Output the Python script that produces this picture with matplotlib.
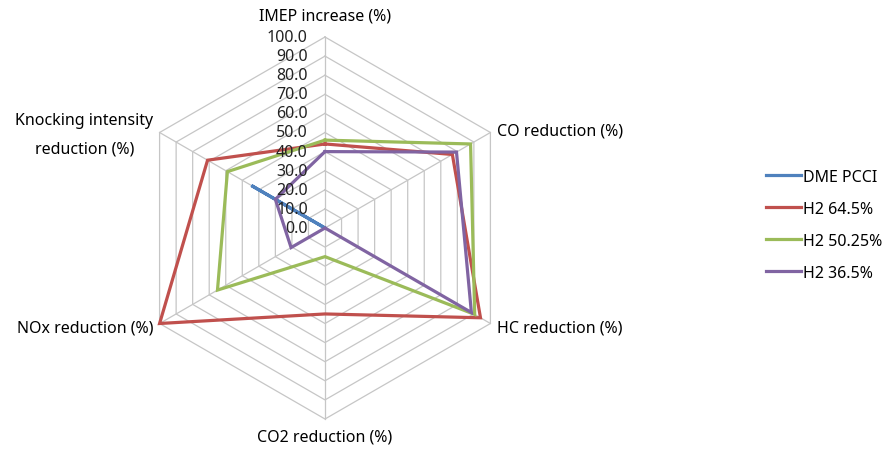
import numpy as np
import matplotlib
matplotlib.use("Agg")
import matplotlib.pyplot as plt

plt.rcParams["font.family"] = ["Noto Sans", "DejaVu Sans"]

# spokes, clockwise from the top
axes_labels = ["IMEP increase (%)", "CO reduction (%)", "HC reduction (%)",
               "CO2 reduction (%)", "NOx reduction (%)",
               "Knocking intensity\nreduction (%)"]
series_names = ["DME PCCI", "H2 64.5%", "H2 50.25%", "H2 36.5%"]
dme_pcci = [0.0, 0.0, 0.0, 0.0, 0.0, 44.5]
h2_645 = [44.0, 77.0, 94.0, 45.0, 100.0, 71.0]
h2_5025 = [46.0, 88.0, 90.5, 15.0, 65.0, 59.0]
h2_365 = [40.0, 79.5, 88.5, 0.0, 20.5, 30.0]
ring_values = np.arange(0, 101, 10)

colors = ["#4F81BD", "#C0504D", "#9BBB59", "#8064A2"]
grid_color = "#C6C6C6"

n = len(axes_labels)
theta = np.pi / 2 - np.arange(n) * 2 * np.pi / n  # start at top, go clockwise


def to_xy(vals):
    vals = np.asarray(vals, dtype=float)
    x = vals * np.cos(theta)
    y = vals * np.sin(theta)
    return np.append(x, x[0]), np.append(y, y[0])


fig = plt.figure(figsize=(8.87, 4.52), dpi=100)
ax = fig.add_axes([0, 0, 1, 1])
scale = 1.91  # pixels per unit
cx, cy = 325, 452 - 229
ax.set_xlim(-cx / scale, (887 - cx) / scale)
ax.set_ylim(-cy / scale, (452 - cy) / scale)
ax.axis("off")

# hexagonal rings and spokes
for r in ring_values[1:]:
    gx, gy = to_xy([r] * n)
    ax.plot(gx, gy, color=grid_color, lw=0.9, zorder=1)
for t in theta:
    ax.plot([0, 100 * np.cos(t)], [0, 100 * np.sin(t)], color=grid_color, lw=0.9, zorder=1)

fs = 11.5

# scale labels along the top spoke
for r in ring_values:
    ax.text(-9.0, r, f"{r:.1f}", ha="right", va="center", fontsize=fs, color="#222222", zorder=3)

for i, vals in enumerate([dme_pcci, h2_645, h2_5025, h2_365]):
    sx, sy = to_xy(vals)
    ax.plot(sx, sy, color=colors[i], lw=2.3, solid_joinstyle="miter",
            label=series_names[i], zorder=2 + i * 0.1)

# category labels
ax.text(0, 111, axes_labels[0], ha="center", va="center", fontsize=fs)
ax.text(90, 51, axes_labels[1], ha="left", va="center", fontsize=fs)
ax.text(90, -52, axes_labels[2], ha="left", va="center", fontsize=fs)
ax.text(0, -109.4, axes_labels[3], ha="center", va="center", fontsize=fs)
ax.text(-90, -52, axes_labels[4], ha="right", va="center", fontsize=fs)
ax.text(-126, 49, axes_labels[5], ha="center", va="center", fontsize=fs, linespacing=2.0)

ax.legend(loc="center left", bbox_to_anchor=(766 / 887, 0.5), frameon=False,
          borderaxespad=0, borderpad=0, fontsize=fs, handlelength=2.2,
          handletextpad=0.1, labelspacing=1.0)

fig.savefig("out.png", dpi=100)
